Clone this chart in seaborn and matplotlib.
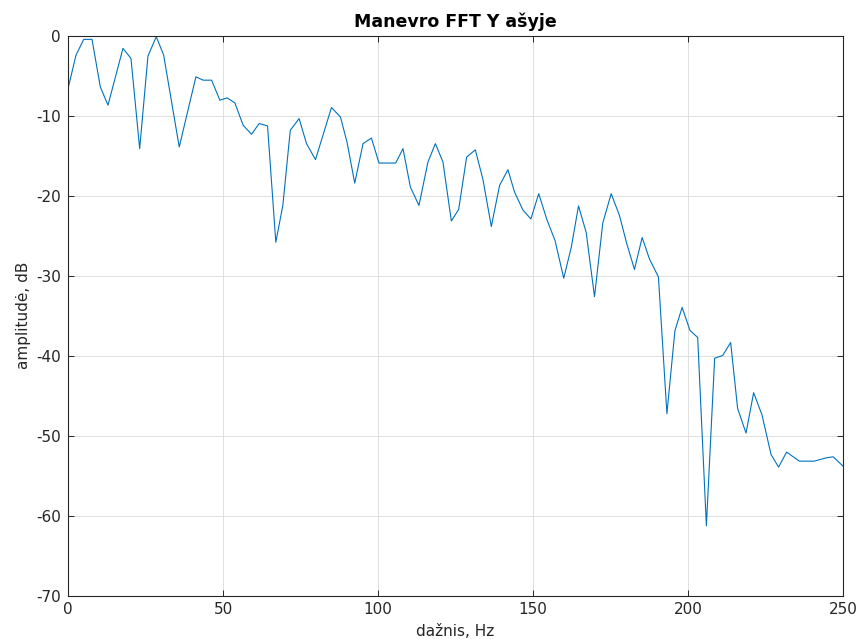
import numpy as np
import pandas as pd
import matplotlib
matplotlib.use('Agg')
import matplotlib.pyplot as plt
import seaborn as sns

sns.set_theme(style="whitegrid")
plt.rcParams['font.family'] = ['DejaVu Sans']
plt.rcParams['axes.unicode_minus'] = False

# FFT spectrum (frequency in Hz, amplitude in dB)
freq = [0.0, 2.58, 5.06, 7.73, 10.41, 12.89, 17.72, 20.30, 23.11, 25.78,
        28.46, 30.84, 35.87, 41.25, 43.60, 46.31, 48.98, 51.34, 53.82, 56.49,
        59.20, 61.65, 64.36, 67.03, 69.29, 71.70, 74.54, 76.93, 79.83, 84.98,
        87.88, 90.01, 92.49, 95.17, 97.87, 100.32, 105.70, 108.06, 110.44, 113.21,
        116.11, 118.50, 120.95, 123.65, 126.01, 128.59, 131.39, 133.84, 136.55, 139.22,
        141.90, 144.05, 146.73, 149.31, 151.85, 154.46, 157.11, 159.91, 162.33, 164.68,
        167.16, 169.84, 172.51, 175.22, 177.89, 180.24, 182.73, 185.21, 187.56, 190.46,
        193.20, 195.78, 198.10, 200.61, 203.12, 205.93, 208.60, 211.18, 213.76, 216.01,
        218.72, 221.17, 223.88, 226.78, 229.23, 231.81, 235.90, 240.73, 244.92, 246.86,
        250.0]
amp = [-6.62, -2.44, -0.48, -0.48, -6.42, -8.71, -1.60, -2.86, -14.14, -2.57,
       -0.15, -2.44, -13.93, -5.16, -5.58, -5.58, -8.08, -7.79, -8.42, -11.22,
       -12.34, -11.00, -11.30, -25.84, -21.24, -11.84, -10.38, -13.51, -15.51, -9.00,
       -10.18, -13.35, -18.45, -13.51, -12.81, -15.94, -15.94, -14.14, -18.95, -21.24,
       -15.81, -13.51, -15.81, -23.18, -21.74, -15.19, -14.29, -17.98, -23.87, -18.73,
       -16.77, -19.57, -21.80, -22.93, -19.77, -22.99, -25.63, -30.33, -26.50, -21.30,
       -24.62, -32.64, -23.43, -19.77, -22.49, -26.00, -29.24, -25.25, -27.92, -30.18,
       -47.27, -36.90, -33.98, -36.84, -37.74, -61.28, -40.33, -40.00, -38.37, -46.62,
       -49.69, -44.64, -47.43, -52.36, -53.95, -52.07, -53.20, -53.20, -52.76, -52.66,
       -53.82]

xticks = [0, 50, 100, 150, 200, 250]
yticks = [0, -10, -20, -30, -40, -50, -60, -70]

df = pd.DataFrame({'freq': freq, 'amp': amp})

fig = plt.figure(figsize=(8.58, 6.39), dpi=100)
ax = fig.add_axes([0.0793, 0.068, 0.9032, 0.8764])

sns.lineplot(data=df, x='freq', y='amp', ax=ax, color='#0072BD',
             linewidth=0.8, estimator=None, sort=False)

ax.set_xlim(0, 250)
ax.set_ylim(-70, 0)
ax.set_xticks(xticks)
ax.set_yticks(yticks)
ax.set_facecolor('white')
ax.grid(True, color='#dedede', linewidth=0.7)
for s in ax.spines.values():
    s.set_color('#262626')
    s.set_linewidth(0.8)
ax.tick_params(direction='in', length=4, width=0.7, color='#262626',
               labelsize=11, labelcolor='#262626',
               top=True, right=True, bottom=True, left=True, pad=5)

ax.set_title('Manevro FFT Y ašyje', fontsize=12.5, fontweight='bold',
             color='black', pad=6)
ax.set_xlabel('dažnis, Hz', fontsize=11, color='#262626', labelpad=5)
ax.set_ylabel('amplitudė, dB', fontsize=11, color='#262626', labelpad=4)

fig.savefig('out.png', dpi=100, facecolor='white')
